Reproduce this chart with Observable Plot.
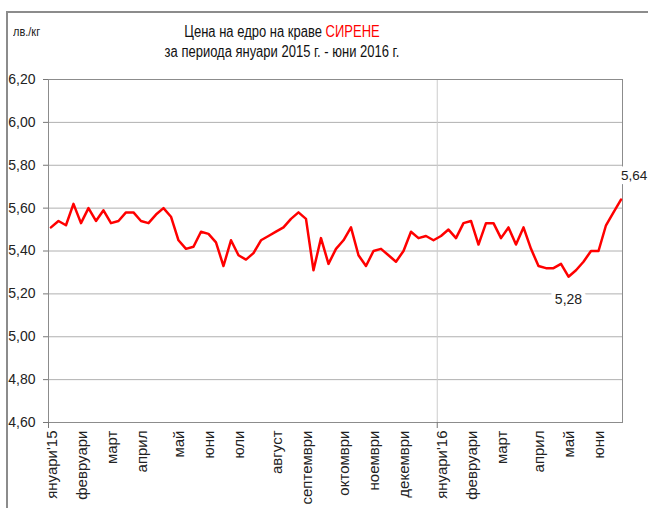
<!DOCTYPE html>
<html><head><meta charset="utf-8">
<script src="https://cdn.jsdelivr.net/npm/d3@7"></script>
<script src="https://cdn.jsdelivr.net/npm/@observablehq/plot@0.6"></script>
<style>
body{margin:0;background:#fff;}
#wrap{position:relative;width:648px;height:508px;overflow:hidden;font-family:"Liberation Sans",Arial,sans-serif;background:#fff;}
#frame{position:absolute;left:6px;top:11px;width:700px;height:600px;border-left:2px solid #8c8c8c;border-top:2px solid #8c8c8c;}
#unit{position:absolute;left:13px;top:24px;font-size:11px;color:#222;transform:scaleY(1.15);transform-origin:0 0;}
#title{position:absolute;left:0;width:564px;top:23px;text-align:center;font-size:13px;line-height:16px;color:#111;transform:scaleY(1.2);transform-origin:0 0;}
#title .red{color:#ff0000;}
#chart svg{position:absolute;left:0;top:0;}
</style></head>
<body><div id="wrap"><div id="frame"></div><div id="chart"></div>
<div id="title">Цена на едро на краве <span class="red">СИРЕНЕ</span><br>за периода януари 2015 г. - юни 2016 г.</div>
<div id="unit">лв./кг</div></div>
<script>
// Weekly wholesale price of cow cheese, лв./кг, Jan 2015 – Jun 2016
const values = [5.51,5.54,5.52,5.62,5.53,5.60,5.54,5.59,5.53,5.54,
5.58,5.58,5.54,5.53,5.57,5.60,5.56,5.45,5.41,5.42,
5.49,5.48,5.44,5.33,5.45,5.38,5.36,5.39,5.45,5.47,
5.49,5.51,5.55,5.58,5.55,5.31,5.46,5.34,5.41,5.45,
5.51,5.38,5.33,5.40,5.41,5.38,5.35,5.40,5.49,5.46,
5.47,5.45,5.47,5.50,5.46,5.53,5.54,5.43,5.53,5.53,
5.46,5.51,5.43,5.51,5.41,5.33,5.32,5.32,5.34,5.28,
5.31,5.35,5.40,5.40,5.52,5.58,5.64];
const monthLabels = ["януари'15","февруари","март","април","май","юни","юли","август","септември","октомври","ноември","декември","януари'16","февруари","март","април","май","юни"];
const monthStartWeek = [0,4,8,12,17,21,25,30,34,39,43,47,52,56,60,65,69,73];
const yTicks = [4.6,4.8,5.0,5.2,5.4,5.6,5.8,6.0,6.2];
const yearBoundary = 51.5;
const minWeek = 69, lastWeek = 76;

const fmt = d => d.toFixed(2).replace(".", ",");
const labelByWeek = new Map(monthStartWeek.map((w, i) => [w, monthLabels[i]]));
const xDomain = [-0.33, 76.2];

const chart = Plot.plot({
  width: 648, height: 508,
  marginLeft: 48, marginRight: 26, marginTop: 79, marginBottom: 86,
  style: {background: "transparent", fontFamily: "'Liberation Sans', Arial, sans-serif", color: "#222"},
  x: {domain: xDomain},
  y: {domain: [4.6, 6.2]},
  marks: [
    Plot.gridY(yTicks, {stroke: "#b0b0b0", strokeOpacity: 1}),
    Plot.ruleX([yearBoundary], {stroke: "#cccccc"}),
    Plot.frame({stroke: "#8c8c8c"}),
    Plot.axisY(yTicks, {tickFormat: fmt, tickSize: 5, tickPadding: 8, fontSize: 14, stroke: "#777", label: null}),
    Plot.axisX(monthStartWeek, {tickFormat: d => labelByWeek.get(d), tickRotate: -90, tickSize: 0, tickPadding: 8, fontSize: 15, dx: 1, label: null}),
    Plot.axisX([xDomain[0], yearBoundary], {tickSize: 6, tickFormat: () => "", stroke: "#777", label: null}),
    Plot.line(values, {x: (d, i) => i, y: d => d, stroke: "#ff0000", strokeWidth: 2.5, curve: "linear"}),
    Plot.text([minWeek], {x: d => d, y: d => values[d], text: d => fmt(values[d]), dy: 23, fontSize: 14, fill: "#222", stroke: "white", strokeWidth: 9}),
    Plot.text([lastWeek], {x: d => d, y: d => values[d], text: d => fmt(values[d]), dy: -24, dx: 0, textAnchor: "start", fontSize: 13.5, fill: "#222", stroke: "white", strokeWidth: 9})
  ]
});
document.getElementById("chart").appendChild(chart);
</script>
</body></html>
